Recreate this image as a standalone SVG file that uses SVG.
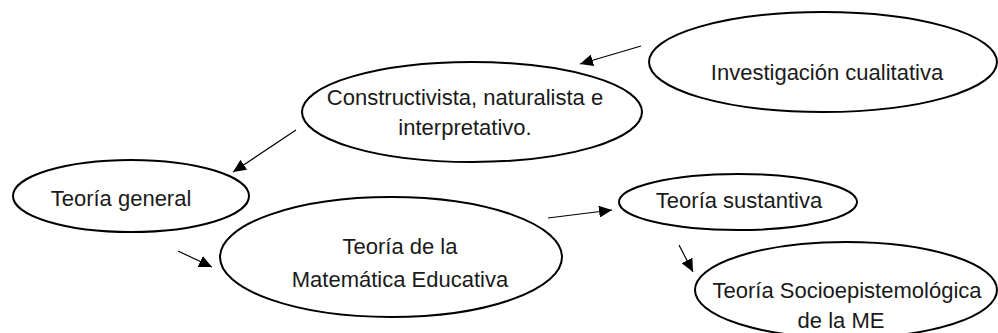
<svg xmlns="http://www.w3.org/2000/svg" width="998" height="333" viewBox="0 0 998 333">
<style>
.node ellipse{fill:#fff;stroke:#000;stroke-width:2}
.node text{font-family:"Liberation Sans",Arial,sans-serif;font-size:22px;fill:#1a1a1a;text-anchor:middle}
.conn line{stroke:#000;stroke-width:1.2;marker-end:url(#ah)}
</style>
<defs>
<marker id="ah" markerUnits="userSpaceOnUse" markerWidth="14" markerHeight="12" refX="13" refY="6" orient="auto">
<path d="M0,0 L13,6 L0,12 Z" fill="#000"/>
</marker>
</defs>
<rect width="998" height="333" fill="#fff"/>
<g id="n-investigacion" class="node">
<ellipse cx="823" cy="62" rx="174" ry="50"/>
<text x="827" y="80">Investigación cualitativa</text>
</g>
<g id="n-constructivista" class="node">
<ellipse cx="472" cy="112" rx="170" ry="50"/>
<text x="465" y="105">Constructivista, naturalista e</text>
<text x="465" y="135">interpretativo.</text>
</g>
<g id="n-general" class="node">
<ellipse cx="131" cy="196" rx="118" ry="36"/>
<text x="121" y="206">Teoría general</text>
</g>
<g id="n-me" class="node">
<ellipse cx="391" cy="257" rx="171" ry="60"/>
<text x="400" y="254">Teoría de la</text>
<text x="400" y="287">Matemática Educativa</text>
</g>
<g id="n-sustantiva" class="node">
<ellipse cx="738" cy="202" rx="119" ry="28"/>
<text x="739" y="208">Teoría sustantiva</text>
</g>
<g id="n-socio" class="node">
<ellipse cx="846" cy="290" rx="151" ry="48"/>
<text x="847" y="298">Teoría Socioepistemológica</text>
<text x="841" y="328">de la ME</text>
</g>
<g id="connectors" class="conn">
<line x1="641" y1="46" x2="580" y2="64"/>
<line x1="296" y1="130" x2="233" y2="172"/>
<line x1="178" y1="251" x2="212" y2="267"/>
<line x1="548" y1="218" x2="612" y2="210"/>
<line x1="679" y1="245" x2="693" y2="272"/>
</g>
</svg>
